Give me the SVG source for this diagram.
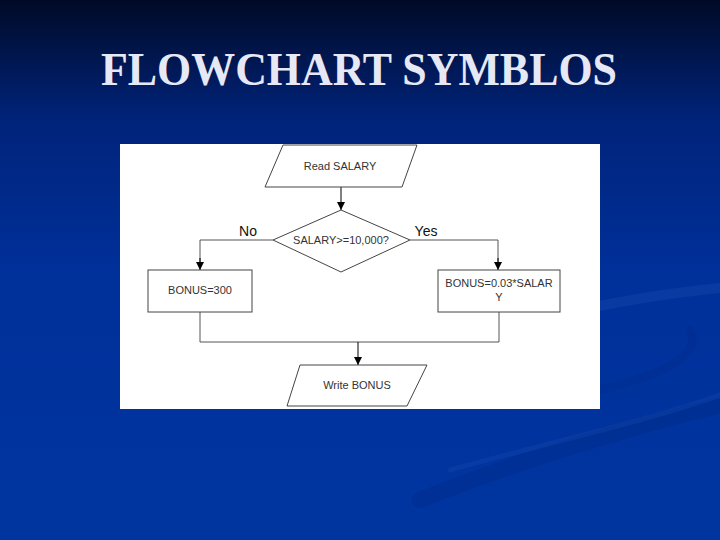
<svg xmlns="http://www.w3.org/2000/svg" width="720" height="540" viewBox="0 0 720 540">
<defs>
<linearGradient id="bg" x1="0" y1="0" x2="0" y2="1">
<stop offset="0" stop-color="#000a26"/>
<stop offset="0.22" stop-color="#00237a"/>
<stop offset="0.5" stop-color="#00309a"/>
<stop offset="1" stop-color="#0035a0"/>
</linearGradient>
<marker id="ah" viewBox="0 0 10 10" refX="10" refY="5" markerWidth="8" markerHeight="8" markerUnits="userSpaceOnUse" orient="auto">
<path d="M0,0 L10,5 L0,10 z" fill="#000"/>
</marker>
<style>
.shape{fill:#fff;stroke:#444;stroke-width:1}
.lbl{font-family:"Liberation Sans",Arial,sans-serif;font-size:11px;fill:#333;text-anchor:middle}
.edge{fill:none;stroke:#555;stroke-width:1}
.arr{fill:none;stroke:#000;stroke-width:1;marker-end:url(#ah)}
.yn{font-family:"Liberation Sans",Arial,sans-serif;font-size:14px;fill:#111;text-anchor:middle}
</style>
</defs>
<rect width="720" height="540" fill="url(#bg)"/>
<g fill="none" stroke-linecap="round">
<path d="M420,500 C520,460 620,430 720,405" stroke="#002b8c" stroke-width="16" stroke-opacity="0.5"/>
<path d="M560,315 C620,300 680,292 720,288" stroke="#1a4db0" stroke-width="10" stroke-opacity="0.35"/>
<path d="M600,390 C680,370 700,350 690,330" stroke="#002b8c" stroke-width="8" stroke-opacity="0.4"/>
<path d="M450,470 C560,440 650,420 720,395" stroke="#1a4db0" stroke-width="5" stroke-opacity="0.3"/>
</g>
<text x="359" y="85" font-family="'Liberation Serif','Times New Roman',serif" font-weight="bold" font-size="46" fill="#e6e8f6" text-anchor="middle" textLength="516" lengthAdjust="spacingAndGlyphs">FLOWCHART SYMBLOS</text>
<rect x="120" y="144" width="480" height="265" fill="#fff"/>
<g id="connectors">
<line class="arr" x1="341" y1="187" x2="341" y2="210"/>
<polyline class="edge" points="273,240 200,240 200,262"/>
<line class="arr" x1="200" y1="258" x2="200" y2="270"/>
<polyline class="edge" points="410,240 498,240 498,262"/>
<line class="arr" x1="498" y1="258" x2="498" y2="270"/>
<polyline class="edge" points="200,312 200,342 499,342 499,312"/>
<line class="arr" x1="358" y1="342" x2="358" y2="365"/>
<text class="yn" x="248" y="236">No</text>
<text class="yn" x="426" y="236">Yes</text>
</g>
<g id="read">
<polygon class="shape" points="283,145 417,145 402,187 265,187"/>
<text class="lbl" x="340" y="170">Read SALARY</text>
</g>
<g id="decision">
<polygon class="shape" points="341,210 410,240 341,272 273,240"/>
<text class="lbl" x="341" y="244">SALARY&gt;=10,000?</text>
</g>
<g id="bonus300">
<rect class="shape" x="148" y="270" width="104" height="42"/>
<text class="lbl" x="200" y="294">BONUS=300</text>
</g>
<g id="bonuspct">
<rect class="shape" x="438" y="270" width="122" height="42"/>
<text class="lbl" x="499" y="287">BONUS=0.03*SALAR</text>
<text class="lbl" x="499" y="301">Y</text>
</g>
<g id="write">
<polygon class="shape" points="300,365 427,365 407,406 287,406"/>
<text class="lbl" x="357" y="389">Write BONUS</text>
</g>
</svg>
